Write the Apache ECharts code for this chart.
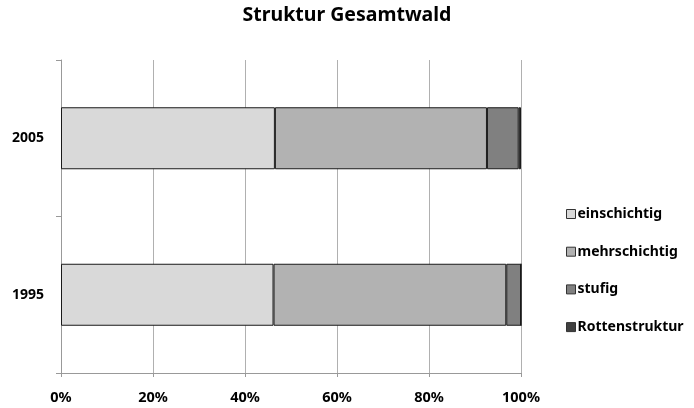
<!DOCTYPE html>
<html>
<head>
<meta charset="utf-8">
<script src="https://cdn.jsdelivr.net/npm/echarts@6/dist/echarts.min.js"></script>
<style>
  html, body { margin: 0; padding: 0; background: #fff; }
  #chart { width: 694px; height: 408px; }
</style>
</head>
<body>
<div id="chart"></div>
<script>
// Forest structure shares (percent) per survey year
const years = ['1995', '2005'];
const einschichtig = [46.2, 46.5];
const mehrschichtig = [50.6, 46.1];
const stufig = [3.2, 6.9];
const rottenstruktur = [0.0, 0.5];
const xTicks = [0, 20, 40, 60, 80, 100];

const seriesDefs = [
  { name: 'einschichtig', data: einschichtig, color: '#d9d9d9' },
  { name: 'mehrschichtig', data: mehrschichtig, color: '#b2b2b2' },
  { name: 'stufig', data: stufig, color: '#808080' },
  { name: 'Rottenstruktur', data: rottenstruktur, color: '#404040' }
];

const font = '"Noto Sans", "DejaVu Sans", sans-serif';
const chart = echarts.init(document.getElementById('chart'));

chart.setOption({
  animation: false,
  backgroundColor: '#ffffff',
  title: {
    text: 'Struktur Gesamtwald',
    left: 'center',
    top: 0,
    textStyle: { fontFamily: font, fontWeight: 'bold', fontSize: 19.5, color: '#000' }
  },
  legend: {
    orient: 'vertical',
    left: 561,
    top: 202,
    itemGap: 23.7,
    itemWidth: 9,
    itemHeight: 9,
    icon: 'rect',
    itemStyle: { borderColor: '#333', borderWidth: 1 },
    textStyle: { fontFamily: font, fontWeight: 'bold', fontSize: 14, color: '#000', padding: [0, 0, 0, -3] },
    data: seriesDefs.map(s => s.name)
  },
  grid: { left: 61, right: 173, top: 60, bottom: 35, containLabel: false },
  xAxis: {
    type: 'value',
    min: xTicks[0],
    max: xTicks[xTicks.length - 1],
    interval: 20,
    axisLine: { show: true, lineStyle: { color: '#999', width: 1 } },
    axisTick: { show: true, length: 4, lineStyle: { color: '#999' } },
    splitLine: { show: true, lineStyle: { color: '#b0b0b0', width: 1 } },
    axisLabel: {
      formatter: v => v + '%',
      fontFamily: font, fontWeight: 'bold', fontSize: 14.5, color: '#000', margin: 17
    }
  },
  yAxis: {
    type: 'category',
    data: years,
    axisLine: { show: true, lineStyle: { color: '#999', width: 1 } },
    axisTick: { show: true, length: 5, lineStyle: { color: '#999' } },
    splitLine: { show: false },
    axisLabel: { fontFamily: font, fontWeight: 'bold', fontSize: 14, color: '#000', margin: 17 }
  },
  series: seriesDefs.map(s => ({
    name: s.name,
    type: 'bar',
    stack: 'total',
    barWidth: 62,
    data: s.data,
    itemStyle: { color: s.color, borderColor: '#1a1a1a', borderWidth: 1 },
    emphasis: { disabled: true }
  }))
});
</script>
</body>
</html>
